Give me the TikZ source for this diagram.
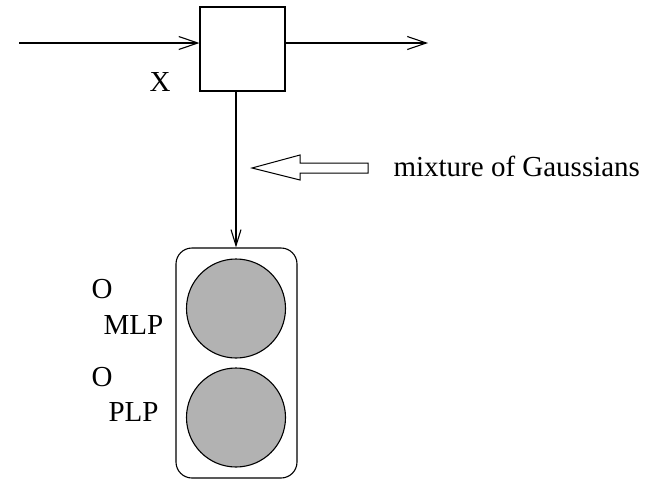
\documentclass[tikz,border=0pt]{standalone}
\usepackage{fontspec}
\setmainfont{Liberation Serif}
\usetikzlibrary{arrows.meta}
\begin{document}
\begin{tikzpicture}[x=1pt,y=-1pt,
  line width=1.1pt,
  lbl/.style={font=\fontsize{29}{34}\selectfont, inner sep=0pt},
  barb/.style={-{Straight Barb[length=19pt,width=13pt,line width=1.1pt]}},
  unit/.style={draw, fill=gray!60, circle, minimum size=99pt, inner sep=0pt},
]
\useasboundingbox (0,0) rectangle (651,480);

% processing block
\node[draw, minimum width=85pt, minimum height=84pt, inner sep=0pt] (blk) at (242.5,49) {};
\coordinate (in) at (19,43);
\coordinate (out) at (428,43);
\draw[barb] (in) -- (blk.west |- in);
\draw[barb] (blk.east |- out) -- (out);
\node[lbl, anchor=base] (xl) at (160,91) {X};

% classifier bank
\node[draw, rounded corners=16pt, minimum width=121pt, minimum height=230pt, inner sep=0pt] (bank) at (236.5,363) {};
\node[unit] (mlp) at (236,308.5) {};
\node[unit] (plp) at (236,417.5) {};
\node[lbl, anchor=base west] (o1) at (91,298) {O};
\node[lbl, anchor=base west] (mlpl) at (103,334) {MLP};
\node[lbl, anchor=base west] (o2) at (91,386) {O};
\node[lbl, anchor=base west] (plpl) at (108,421) {PLP};

\draw[barb, -{Straight Barb[length=16pt,width=10pt,line width=1.1pt]}] (blk.south -| 236,0) -- (bank.north -| 236,0);

% hollow pointer and its caption
\draw[line width=1pt, line join=miter] (252,168) -- (300,155) -- (300,163) -- (368,163) -- (368,173) -- (300,173) -- (300,180) -- cycle;
\node[lbl, anchor=base west] (mix) at (393,176) {mixture of Gaussians};
\end{tikzpicture}
\end{document}
